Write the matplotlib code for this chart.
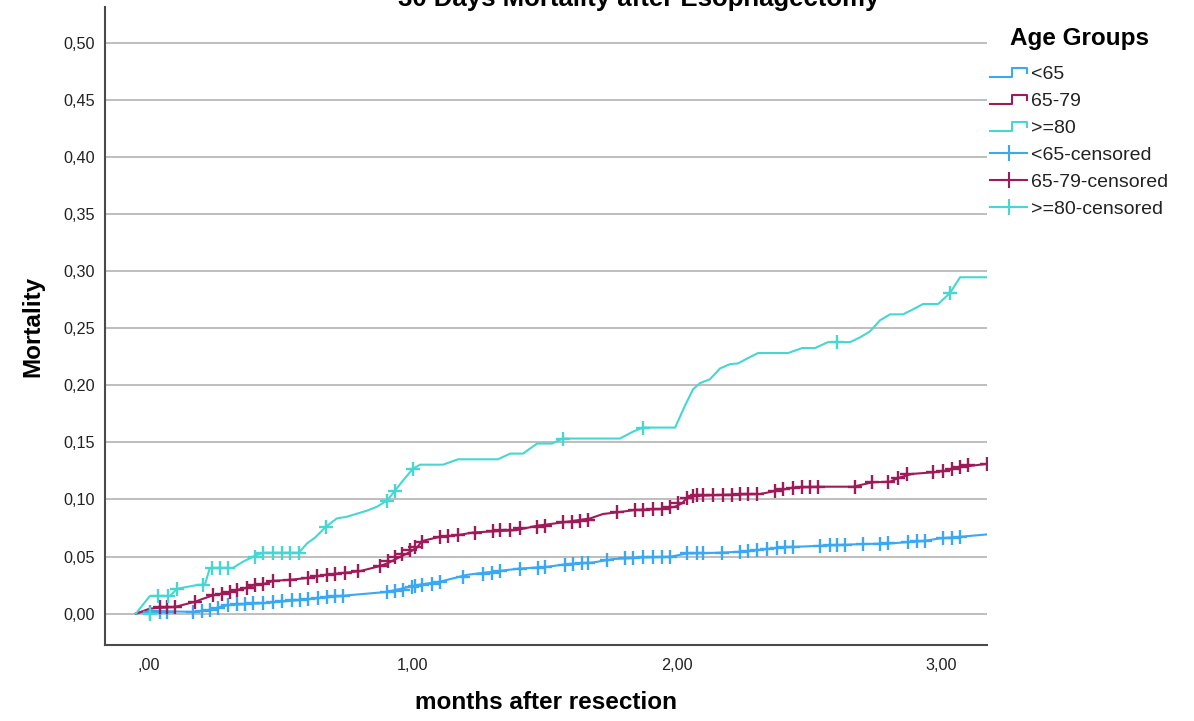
import numpy as np
import matplotlib
matplotlib.use("Agg")
import matplotlib.pyplot as plt
from matplotlib.lines import Line2D
from matplotlib.legend_handler import HandlerBase
from matplotlib.transforms import ScaledTranslation

plt.rcParams['font.family'] = ['Liberation Sans', 'DejaVu Sans']

# ---------------- data ----------------
title = "30 Days Mortality after Esophagectomy"
xlabel = "months after resection"
ylabel = "Mortality"
legend_title = "Age Groups"
groups = ["<65", "65-79", ">=80"]
colors = ["#3aa8f2", "#9e1a58", "#46d7d2"]

xticks = [0, 1, 2, 3]
xticklabels = [",00", "1,00", "2,00", "3,00"]
yticks = [0.00, 0.05, 0.10, 0.15, 0.20, 0.25, 0.30, 0.35, 0.40, 0.45, 0.50]
yticklabels = ["0,00", "0,05", "0,10", "0,15", "0,20", "0,25", "0,30", "0,35", "0,40", "0,45", "0,50"]

# <65
t_lt65 = [0, 0.053, 0.216, 0.280, 0.318, 0.356, 0.496, 0.621, 0.746, 0.799, 0.951, 1.064, 1.152,
          1.254, 1.379, 1.455, 1.557, 1.633, 1.731, 1.807, 1.920, 2.023, 2.087, 2.201, 2.288,
          2.375, 2.439, 2.591, 2.742, 2.856, 2.981, 3.045, 3.121, 3.223]
m_lt65 = [0, 0.0024, 0.0015, 0.003, 0.006, 0.0076, 0.0094, 0.012, 0.0147, 0.016, 0.019, 0.025, 0.028,
          0.034, 0.0375, 0.0395, 0.041, 0.0434, 0.0448, 0.0478, 0.0492, 0.0498, 0.0527, 0.0533, 0.0542,
          0.0562, 0.058, 0.0594, 0.0609, 0.0615, 0.0636, 0.0659, 0.0673, 0.0694]
ct_lt65 = [0.053, 0.091, 0.117, 0.216, 0.250, 0.280, 0.311, 0.348, 0.383, 0.413, 0.443, 0.481, 0.519,
           0.553, 0.591, 0.621, 0.652, 0.689, 0.723, 0.754, 0.784, 0.951, 0.981, 1.011, 1.045, 1.057,
           1.083, 1.121, 1.152, 1.239, 1.314, 1.348, 1.379, 1.455, 1.523, 1.549, 1.625, 1.655, 1.689,
           1.712, 1.784, 1.852, 1.883, 1.920, 1.958, 1.992, 2.023, 2.087, 2.125, 2.148, 2.220, 2.288,
           2.318, 2.352, 2.390, 2.428, 2.458, 2.489, 2.591, 2.629, 2.655, 2.686, 2.754, 2.818, 2.848,
           2.924, 2.958, 2.989, 3.057, 3.091, 3.121]
cm_lt65 = [0.001, 0.001, 0.001, 0.0015, 0.002, 0.003, 0.005, 0.0075, 0.008, 0.0085, 0.009, 0.0093, 0.010,
           0.011, 0.0115, 0.012, 0.013, 0.014, 0.0145, 0.015, 0.0155, 0.019, 0.020, 0.021, 0.023, 0.024,
           0.025, 0.026, 0.028, 0.032, 0.035, 0.036, 0.0375, 0.0395, 0.040, 0.041, 0.043, 0.0437, 0.0442,
           0.0446, 0.047, 0.0485, 0.049, 0.0492, 0.0495, 0.0497, 0.0498, 0.0527, 0.053, 0.0532, 0.0535, 0.0542,
           0.0548, 0.0555, 0.0565, 0.0575, 0.058, 0.0583, 0.0594, 0.0598, 0.060, 0.0603, 0.061, 0.0613, 0.0615,
           0.063, 0.0635, 0.0638, 0.066, 0.0665, 0.067]

# 65-79
t_mid = [0, 0.053, 0.148, 0.223, 0.254, 0.292, 0.326, 0.356, 0.383, 0.420, 0.451, 0.489, 0.519, 0.583,
         0.652, 0.686, 0.723, 0.761, 0.799, 0.848, 0.913, 0.951, 0.989, 1.027, 1.064, 1.083, 1.152,
         1.220, 1.277, 1.443, 1.519, 1.617, 1.720, 1.769, 1.822, 1.890, 1.992, 2.042, 2.068, 2.087,
         2.117, 2.212, 2.364, 2.428, 2.489, 2.591, 2.716, 2.788, 2.856, 2.894, 2.939, 3.019, 3.072,
         3.110, 3.170, 3.223]
m_mid = [0, 0.0044, 0.0059, 0.0103, 0.013, 0.016, 0.0176, 0.019, 0.0208, 0.0226, 0.0252, 0.0263, 0.0287,
         0.0296, 0.0313, 0.0328, 0.0342, 0.0351, 0.036, 0.0372, 0.041, 0.0439, 0.0483, 0.0527, 0.0577,
         0.0636, 0.0673, 0.0688, 0.0711, 0.0732, 0.077, 0.0799, 0.0834, 0.0873, 0.0887, 0.0908, 0.0917,
         0.0937, 0.0966, 0.1016, 0.1031, 0.104, 0.1048, 0.1077, 0.1104, 0.1112, 0.1112, 0.115, 0.1156,
         0.1194, 0.1224, 0.1238, 0.1253, 0.1279, 0.1297, 0.1312]
ct_mid = [0.091, 0.117, 0.148, 0.223, 0.292, 0.326, 0.356, 0.383, 0.420, 0.451, 0.481, 0.519, 0.583,
          0.652, 0.686, 0.723, 0.754, 0.792, 0.841, 0.924, 0.955, 0.981, 1.008, 1.038, 1.057, 1.083,
          1.152, 1.182, 1.220, 1.284, 1.352, 1.379, 1.417, 1.455, 1.519, 1.549, 1.617, 1.652, 1.682,
          1.712, 1.822, 1.890, 1.920, 1.958, 1.992, 2.023, 2.053, 2.087, 2.110, 2.125, 2.148, 2.186,
          2.223, 2.258, 2.288, 2.318, 2.352, 2.420, 2.451, 2.489, 2.523, 2.553, 2.583, 2.723, 2.788,
          2.848, 2.886, 2.920, 3.019, 3.057, 3.091, 3.121, 3.152, 3.223]
cm_mid = [0.006, 0.006, 0.006, 0.010, 0.016, 0.0176, 0.019, 0.021, 0.0226, 0.025, 0.026, 0.0287, 0.0296,
          0.0313, 0.0328, 0.0342, 0.035, 0.036, 0.037, 0.042, 0.046, 0.050, 0.052, 0.056, 0.0586, 0.063,
          0.067, 0.068, 0.069, 0.071, 0.072, 0.0732, 0.0735, 0.0746, 0.076, 0.077, 0.0799, 0.080, 0.081,
          0.082, 0.0887, 0.0908, 0.091, 0.0915, 0.092, 0.0937, 0.0966, 0.1016, 0.1031, 0.1035, 0.1038, 0.104,
          0.104, 0.1042, 0.1045, 0.1046, 0.1048, 0.1077, 0.109, 0.1104, 0.111, 0.1112, 0.1112, 0.1112, 0.115,
          0.1156, 0.119, 0.1224, 0.1238, 0.1253, 0.127, 0.1285, 0.130, 0.1312]

# >=80
t_old = [0, 0.053, 0.129, 0.155, 0.235, 0.261, 0.280, 0.367, 0.405, 0.451, 0.481, 0.617, 0.648, 0.678,
         0.720, 0.761, 0.799, 0.875, 0.913, 0.951, 0.981, 1.008, 1.049, 1.076, 1.163, 1.220, 1.371,
         1.417, 1.466, 1.519, 1.576, 1.617, 1.833, 1.883, 1.920, 2.042, 2.080, 2.110, 2.136, 2.174,
         2.212, 2.250, 2.280, 2.318, 2.356, 2.470, 2.523, 2.572, 2.621, 2.705, 2.742, 2.780, 2.818,
         2.856, 2.905, 2.943, 2.981, 3.038, 3.083, 3.121, 3.223]
m_old = [0, 0.0155, 0.0155, 0.0217, 0.0252, 0.0252, 0.040, 0.040, 0.0454, 0.0507, 0.0533, 0.0533, 0.0615,
         0.0665, 0.0762, 0.0834, 0.0849, 0.0902, 0.0937, 0.099, 0.1077, 0.1156, 0.127, 0.1305, 0.1305,
         0.1352, 0.1352, 0.1402, 0.1402, 0.149, 0.149, 0.1534, 0.1534, 0.1595, 0.163, 0.163, 0.1826,
         0.1966, 0.2019, 0.2054, 0.2148, 0.2186, 0.2192, 0.2239, 0.2283, 0.2283, 0.2327, 0.2327, 0.2379,
         0.2379, 0.2420, 0.2473, 0.2570, 0.2622, 0.2622, 0.2666, 0.2713, 0.2713, 0.2809, 0.2947, 0.2947]
ct_old = [0.053, 0.083, 0.121, 0.155, 0.254, 0.288, 0.318, 0.348, 0.451, 0.481, 0.519, 0.553, 0.583,
          0.617, 0.720, 0.951, 0.981, 1.049, 1.617, 1.920, 2.654, 3.083]
cm_old = [0.0, 0.0155, 0.0155, 0.0217, 0.0252, 0.040, 0.040, 0.040, 0.0498, 0.0533, 0.0533, 0.0533, 0.0533,
          0.0533, 0.0762, 0.099, 0.1077, 0.127, 0.1534, 0.163, 0.2379, 0.2809]

curves = [(t_lt65, m_lt65, ct_lt65, cm_lt65),
          (t_mid, m_mid, ct_mid, cm_mid),
          (t_old, m_old, ct_old, cm_old)]

# ---------------- figure ----------------
W, H, DPI = 1194, 721, 100
fig = plt.figure(figsize=(W / DPI, H / DPI), dpi=DPI)
ax = fig.add_axes([105 / W, 1 - 645 / H, (987 - 105) / W, (645 - 7) / H])

ax.set_xlim(-0.117, 3.223)
ax.set_ylim(-0.0275, 0.5315)

for y in yticks:
    ax.axhline(y, color="#b9b9b9", lw=1.3, zorder=1)

lw = 1.5
for (t, m, ct, cm), c in zip(curves, colors):
    ax.plot(t, m, color=c, lw=lw, zorder=3, solid_joinstyle="round")
for (t, m, ct, cm), c in zip(curves, colors):
    ax.plot(ct, cm, linestyle="none", marker="+", markersize=10, mew=1.7, color=c, zorder=4)

ax.set_xticks(xticks)
ax.set_xticklabels(xticklabels, fontsize=11.7, color="#222222")
ax.set_yticks(yticks)
ax.set_yticklabels(yticklabels, fontsize=11.7, color="#222222")
ax.tick_params(axis="both", length=0)
ax.tick_params(axis="x", pad=9)
ax.tick_params(axis="y", pad=7)
off = ScaledTranslation(13 / DPI, 0, fig.dpi_scale_trans)
for lab in ax.get_xticklabels():
    lab.set_transform(lab.get_transform() + off)

for s in ["top", "right"]:
    ax.spines[s].set_visible(False)
for s in ["left", "bottom"]:
    ax.spines[s].set_color("#4a4a4a")
    ax.spines[s].set_linewidth(1.5)

ax.set_xlabel(xlabel, fontsize=17.5, fontweight="bold")
ax.xaxis.set_label_coords(0.5, -0.072)
ax.set_ylabel(ylabel, fontsize=17.5, fontweight="bold")
ax.yaxis.set_label_coords(-0.069, 0.5)

fig.text(639 / W, 1 - 6 / H, title, fontsize=18.5, fontweight="bold", ha="center", va="baseline")


class HandlerStep(HandlerBase):
    def create_artists(self, legend, orig_handle, xdescent, ydescent, width, height, fontsize, trans):
        x0, y0 = -xdescent, -ydescent
        xm = x0 + 0.58 * width
        xs = [x0, xm, xm, x0 + width, x0 + width]
        ys = [y0 + 0.15 * height, y0 + 0.15 * height, y0 + 0.85 * height,
              y0 + 0.85 * height, y0 + 0.45 * height]
        line = Line2D(xs, ys, color=orig_handle.get_color(), lw=orig_handle.get_linewidth())
        line.set_transform(trans)
        return [line]


step_handles = [Line2D([], [], color=c, lw=lw) for c in colors]
cens_handles = [Line2D([], [], color=c, lw=lw, marker="+", markersize=12, mew=1.5) for c in colors]
labels = groups + [g + "-censored" for g in groups]
handler_map = {h: HandlerStep() for h in step_handles}
leg = fig.legend(step_handles + cens_handles, labels, handler_map=handler_map,
                 loc="upper left", bbox_to_anchor=(963 / W, 1.0),
                 frameon=False, fontsize=14, title=legend_title,
                 title_fontproperties={"size": 17.5, "weight": "bold"},
                 handlelength=1.9, handletextpad=0.2, labelspacing=0.48,
                 borderpad=1.4, borderaxespad=0, numpoints=1)
leg._legend_box.sep = 11.2
for txt in leg.get_texts():
    txt.set_color("#222222")

fig.savefig("out.png", dpi=DPI)
